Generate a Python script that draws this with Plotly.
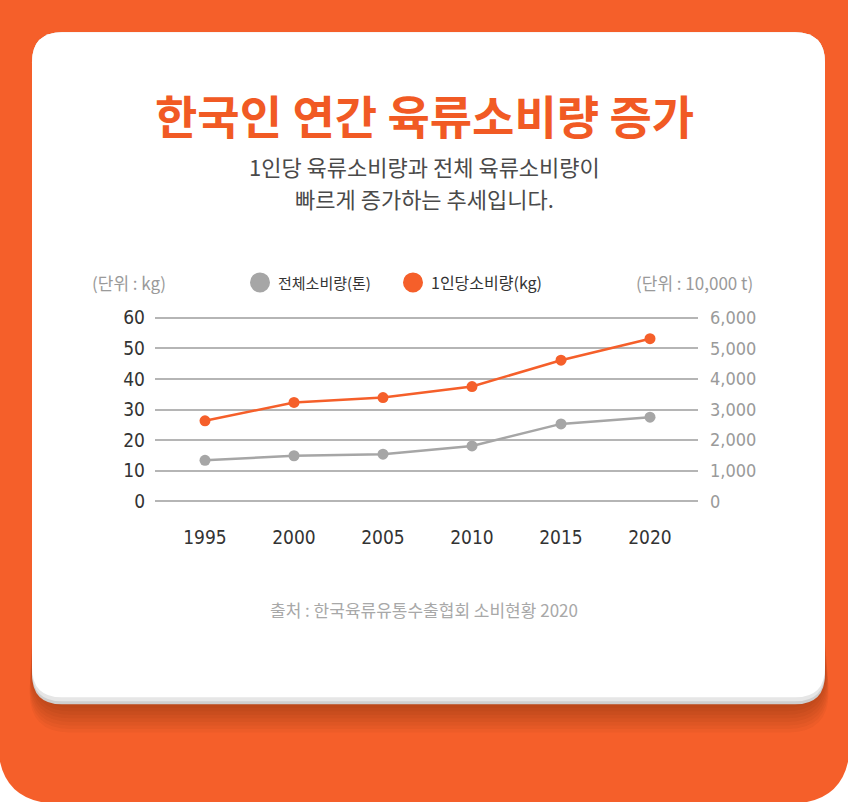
import plotly.graph_objects as go

# --- Dados do gráfico ---
anos = [1995, 2000, 2005, 2010, 2015, 2020]
consumo_per_capita = [26.3, 32.3, 33.9, 37.5, 46.1, 53.1]      # kg / pessoa
consumo_total = [1340, 1490, 1540, 1810, 2530, 2750]          # 10,000 t
ticks_esq = [0, 10, 20, 30, 40, 50, 60]
ticks_dir = [0, 1000, 2000, 3000, 4000, 5000, 6000]

titulo = '한국인 연간 육류소비량 증가'
subtitulo_1 = '1인당 육류소비량과 전체 육류소비량이'
subtitulo_2 = '빠르게 증가하는 추세입니다.'
fonte = '출처 : 한국육류유통수출협회 소비현황 2020'

LARANJA = '#F55F2A'
CINZA = '#A6A6A6'
KR = 'Noto Sans CJK KR'
NUM = 'DejaVu Sans Condensed, Liberation Sans Narrow, Roboto, ' + KR

W, H = 848, 802
# posição dos valores 0 e 60 em pixels
L, R, T, B = 155, 698, 318, 501
FOLGA = 1.5  # folga no eixo y para as linhas de grade das pontas aparecerem
folga_px = FOLGA * (B - T) / 60
T_AREA, B_AREA = T - folga_px, B + folga_px


def px(x):
    return (x - L) / (R - L)


def py(y):
    return (B_AREA - y) / (B_AREA - T_AREA)


def caminho_arredondado(x0, y0, x1, y1, r, cantos=(True, True, True, True)):
    """Retângulo com cantos arredondados (sup-esq, sup-dir, inf-dir, inf-esq) em coordenadas paper."""
    rtl, rtr, rbr, rbl = [r if c else 0 for c in cantos]
    pts = []
    pts.append(f'M {px(x0 + rtl)},{py(y0)}')
    pts.append(f'L {px(x1 - rtr)},{py(y0)}')
    pts.append(f'Q {px(x1)},{py(y0)} {px(x1)},{py(y0 + rtr)}')
    pts.append(f'L {px(x1)},{py(y1 - rbr)}')
    pts.append(f'Q {px(x1)},{py(y1)} {px(x1 - rbr)},{py(y1)}')
    pts.append(f'L {px(x0 + rbl)},{py(y1)}')
    pts.append(f'Q {px(x0)},{py(y1)} {px(x0)},{py(y1 - rbl)}')
    pts.append(f'L {px(x0)},{py(y0 + rtl)}')
    pts.append(f'Q {px(x0)},{py(y0)} {px(x0 + rtl)},{py(y0)}')
    pts.append('Z')
    return ' '.join(pts)


fig = go.Figure()

# Linha do consumo total (eixo direito)
fig.add_trace(go.Scatter(x=anos, y=consumo_total, yaxis='y2', mode='lines+markers',
                         name='전체소비량(톤)', line=dict(color=CINZA, width=2.5),
                         marker=dict(size=11, color=CINZA)))
# Linha do consumo per capita (eixo esquerdo)
fig.add_trace(go.Scatter(x=anos, y=consumo_per_capita, mode='lines+markers',
                         name='1인당소비량(kg)', line=dict(color=LARANJA, width=2.5),
                         marker=dict(size=11, color=LARANJA)))

# --- Fundo, sombra e cartão ---
shapes = []
shapes.append(dict(type='path', path=caminho_arredondado(-2, -5, W + 2, H, 62, (False, False, True, True)),
                   fillcolor=LARANJA, line=dict(width=0), layer='below', xref='paper', yref='paper'))
for k in range(1, 9):
    shapes.append(dict(type='path', path=caminho_arredondado(32 - k * 0.3, 600 + k * 6, 825 + k * 0.45, 703 + k * 3.5, 40),
                       fillcolor='#3a0d00', opacity=0.04, line=dict(width=0), layer='below',
                       xref='paper', yref='paper'))
shapes.append(dict(type='path', path=caminho_arredondado(32, 34, 825, 703, 30),
                   fillcolor='#CFCFCF', line=dict(width=0), layer='below', xref='paper', yref='paper'))
shapes.append(dict(type='path', path=caminho_arredondado(32, 34, 825, 700, 30),
                   fillcolor='#E6E6E6', line=dict(width=0), layer='below', xref='paper', yref='paper'))
shapes.append(dict(type='path', path=caminho_arredondado(32, 34, 825, 696, 30),
                   fillcolor='#FFFFFF', line=dict(width=0), layer='below', xref='paper', yref='paper'))

# Legenda desenhada à mão
for cx, cor in [(260, CINZA), (413, LARANJA)]:
    shapes.append(dict(type='circle', x0=px(cx - 10), x1=px(cx + 10), y0=py(293), y1=py(273),
                       fillcolor=cor, line=dict(width=0), xref='paper', yref='paper'))

annotations = [
    dict(text=titulo, x=px(424), y=py(115), font=dict(family=KR, size=46, color='#F15A24', weight='bold')),
    dict(text=subtitulo_1, x=px(424), y=py(167), font=dict(family=KR, size=22, color='#4a4a4a')),
    dict(text=subtitulo_2, x=px(424), y=py(199), font=dict(family=KR, size=22, color='#4a4a4a')),
    dict(text='(단위 : kg)', x=px(129), y=py(283), font=dict(family=KR, size=17, color='#9a9a9a')),
    dict(text='(단위 : 10,000 t)', x=px(694), y=py(283), font=dict(family=KR, size=17, color='#9a9a9a')),
    dict(text='전체소비량(톤)', x=px(277), y=py(283), xanchor='left', font=dict(family=KR, size=15, color='#333333')),
    dict(text='1인당소비량(kg)', x=px(430), y=py(283), xanchor='left', font=dict(family=KR, size=16, color='#333333')),
    dict(text=fonte, x=px(424), y=py(609), font=dict(family=KR, size=17, color='#a8a8a8')),
]
for a in annotations:
    a.setdefault('xanchor', 'center')
    a.update(xref='paper', yref='paper', yanchor='middle', showarrow=False, borderpad=0)

passo = (650 - 205) / 25
fig.update_layout(
    width=W, height=H,
    margin=dict(l=L, r=W - R, t=T_AREA, b=H - B_AREA, pad=0),
    paper_bgcolor='white',
    plot_bgcolor='rgba(0,0,0,0)',
    showlegend=False,
    shapes=shapes,
    annotations=annotations,
    xaxis=dict(range=[1995 - (205 - L) / passo, 2020 + (R - 650) / passo], tickvals=anos,
               showgrid=False, zeroline=False, showline=False, ticks='',
               ticklabelstandoff=18, tickfont=dict(family=NUM, size=19, color='#333333')),
    yaxis=dict(range=[-FOLGA, 60 + FOLGA], tickvals=ticks_esq, showgrid=True, gridcolor='#B5B5B5', gridwidth=1.5,
               zeroline=False, showline=False, ticks='', ticklabelstandoff=9,
               tickfont=dict(family=NUM, size=19, color='#333333')),
    yaxis2=dict(range=[-FOLGA * 100, 6000 + FOLGA * 100], tickvals=ticks_dir, overlaying='y', side='right',
                showgrid=False, zeroline=False, showline=False, ticks='', tickformat=',', ticklabelstandoff=11,
                tickfont=dict(family=NUM, size=18, color='#9a9a9a')),
)

fig.write_html('out.html', config={'displayModeBar': False},
               post_script="document.body.style.margin='0';document.body.style.overflow='hidden';")
